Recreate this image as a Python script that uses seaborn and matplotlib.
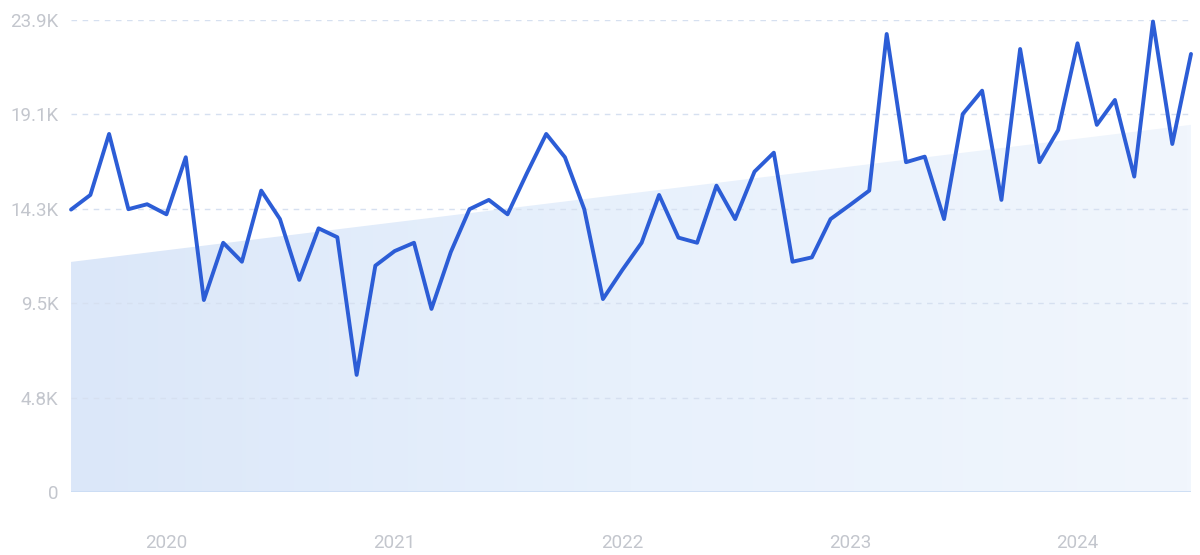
import numpy as np
import pandas as pd
import matplotlib
matplotlib.use("Agg")
import matplotlib.pyplot as plt
import matplotlib.dates as mdates
from matplotlib.colors import LinearSegmentedColormap
from matplotlib.patches import Polygon
import seaborn as sns

months = pd.date_range("2019-08-01", periods=60, freq="MS")
volume = [
    14300, 15040, 18130, 14320, 14570, 14060, 16950, 9720, 12620, 11660,
    15260, 13820, 10740, 13350, 12900, 5930, 11460, 12200, 12620, 9270,
    12150, 14320, 14790, 14060, 16140, 18130, 16950, 14320, 9770, 11240,
    12620, 15040, 12880, 12620, 15510, 13820, 16220, 17180, 11660, 11880,
    13820, 14530, 15260, 23190, 16700, 16980, 13820, 19140, 20320, 14790,
    22430, 16700, 18330, 22720, 18590, 19850, 15970, 23820, 17620, 22180,
]
trend_ends = [11650, 18590]
y_ticks = [0, 4780, 9560, 14340, 19120, 23900]
y_labels = ["0", "4.8K", "9.5K", "14.3K", "19.1K", "23.9K"]
year_labels = ["2020", "2021", "2022", "2023", "2024"]

df = pd.DataFrame({"month": months, "volume": volume})

sns.set_style("white")
plt.rcParams["font.family"] = ["Roboto", "DejaVu Sans"]

fig = plt.figure(figsize=(12, 5.55), dpi=100)
ax = fig.add_axes([0.0592, 0.1135, 0.9333, 0.8505])

x0 = mdates.date2num(months[0])
x1 = mdates.date2num(months[-1])

# trend area with a soft gradient
cmap = LinearSegmentedColormap.from_list("trend", ["#dbe7f9", "#e8f1fc", "#f1f6fd"])
grad = np.linspace(0, 1, 256).reshape(1, -1)
img = ax.imshow(grad, cmap=cmap, aspect="auto", extent=[x0, x1, 0, max(trend_ends)],
                origin="lower", zorder=1)
poly = Polygon([[x0, 0], [x0, trend_ends[0]], [x1, trend_ends[1]], [x1, 0]],
               closed=True, facecolor="none", edgecolor="none")
ax.add_patch(poly)
img.set_clip_path(poly)

for t in y_ticks[1:]:
    ax.axhline(t, color="#d6e0f0", lw=1, ls=(0, (4, 4)), zorder=2)
ax.axhline(0, color="#c9dbf3", lw=1.2, zorder=2)

sns.lineplot(data=df, x="month", y="volume", ax=ax, color="#2c5dd6", lw=2.8,
             zorder=3, clip_on=False)

ax.set_xlim(x0, x1)
ax.set_ylim(0, 23900)
ax.set_yticks(y_ticks)
ax.set_yticklabels(y_labels)
ax.set_xticks([mdates.date2num(pd.Timestamp(f"{y}-01-01")) for y in year_labels])
ax.set_xticklabels(year_labels)
ax.tick_params(axis="y", length=0, pad=9, labelsize=13.5, labelcolor="#c3c6cd")
ax.tick_params(axis="x", length=0, pad=30, labelsize=13.5, labelcolor="#c3c6cd")
ax.set_xlabel("")
ax.set_ylabel("")
sns.despine(ax=ax, left=True, bottom=True)

fig.savefig("out.png", dpi=100, facecolor="white")
